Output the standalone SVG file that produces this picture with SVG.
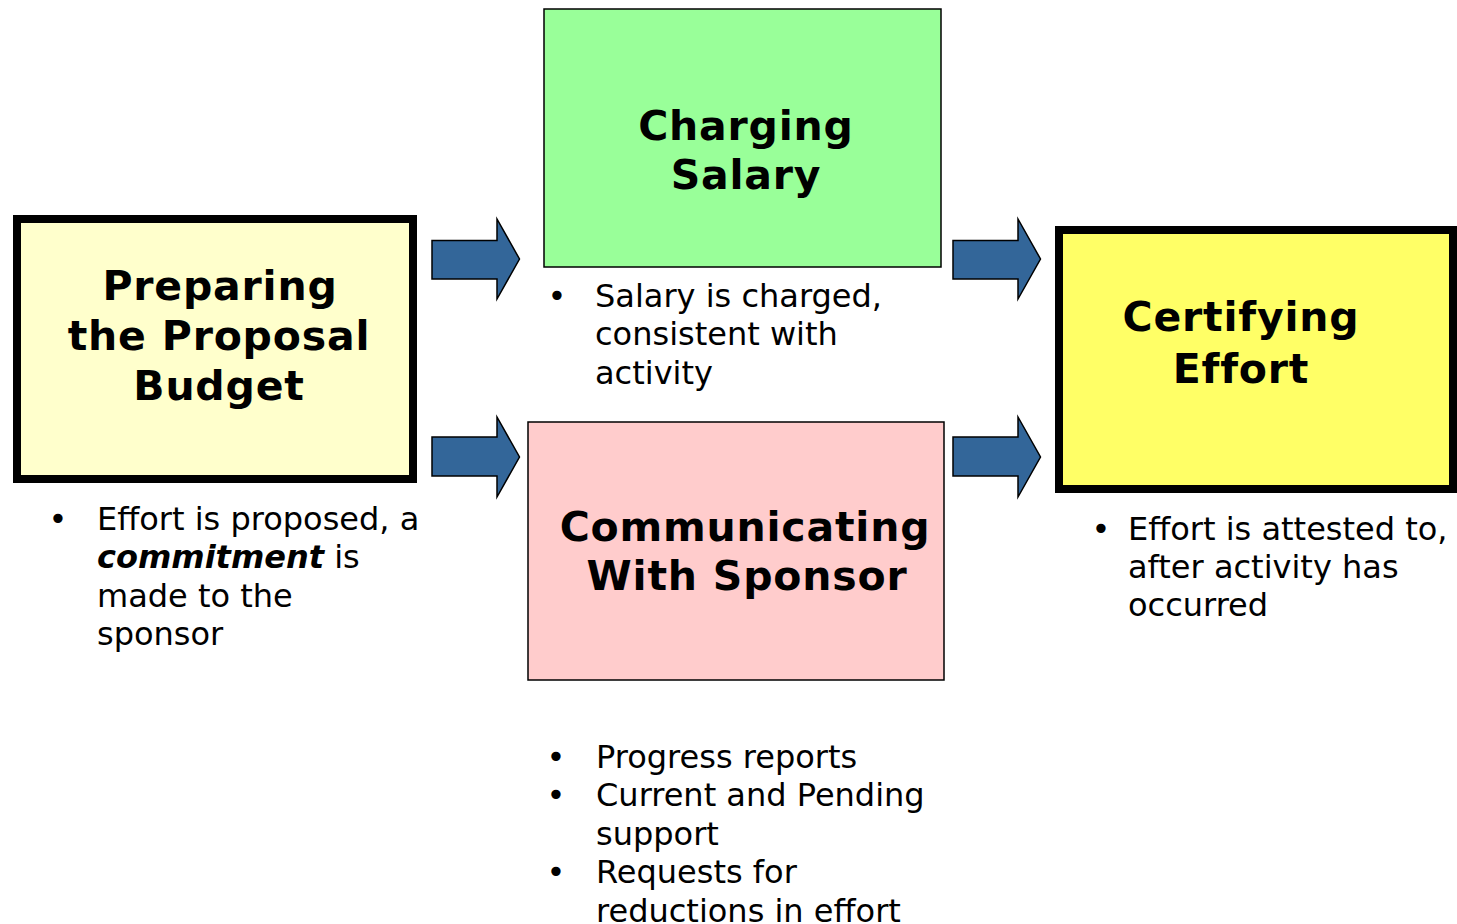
<svg xmlns="http://www.w3.org/2000/svg" width="1457" height="924" viewBox="0 0 1457 924">
<style>
.title{font-family:"DejaVu Sans","Liberation Sans",sans-serif;font-weight:bold;font-size:41px;letter-spacing:0.8px;fill:#000;text-anchor:middle}
.body{font-family:"DejaVu Sans","Liberation Sans",sans-serif;font-size:32px;fill:#000}
.bul{text-anchor:middle}
.arrow{fill:#336699;stroke:#000;stroke-width:1.5;stroke-linejoin:miter}
.thick{stroke:#000;stroke-width:8}
.thin{stroke:#000;stroke-width:1.5}
</style>
<rect x="0" y="0" width="1457" height="924" fill="#fff"/>
<g id="connectors">
<polygon class="arrow" points="432,240.5 497,240.5 497,219 519.5,259 497,299 497,279 432,279"/>
<polygon class="arrow" points="432,437 497,437 497,417 519.5,457 497,497 497,476 432,476"/>
<polygon class="arrow" points="953,240.5 1018,240.5 1018,219 1040.5,259 1018,299 1018,279 953,279"/>
<polygon class="arrow" points="953,437 1018,437 1018,417 1040.5,457 1018,497 1018,476 953,476"/>
</g>
<g id="node-preparing">
<rect class="thick" x="17" y="219" width="396" height="260" fill="#FFFFCC"/>
<text class="title" x="220" y="300">Preparing</text>
<text class="title" x="219" y="350">the Proposal</text>
<text class="title" x="219" y="400">Budget</text>
<g class="body">
<text class="bul" x="58" y="530">•</text>
<text x="97" y="530">Effort is proposed, a</text>
<text x="97" y="568.4"><tspan font-weight="bold" font-style="italic">commitment</tspan> is</text>
<text x="97" y="606.8">made to the</text>
<text x="97" y="645.2">sponsor</text>
</g>
</g>
<g id="node-charging">
<rect class="thin" x="544" y="9" width="397" height="258" fill="#99FF99"/>
<text class="title" x="746" y="140">Charging</text>
<text class="title" x="746" y="189">Salary</text>
<g class="body">
<text class="bul" x="557" y="307">•</text>
<text x="595" y="307">Salary is charged,</text>
<text x="595" y="345.4">consistent with</text>
<text x="595" y="383.8">activity</text>
</g>
</g>
<g id="node-communicating">
<rect class="thin" x="528" y="422" width="416" height="258" fill="#FFCCCC"/>
<text class="title" x="745" y="541">Communicating</text>
<text class="title" x="747" y="590">With Sponsor</text>
<g class="body">
<text class="bul" x="556" y="768">•</text>
<text x="596" y="768">Progress reports</text>
<text class="bul" x="556" y="806.4">•</text>
<text x="596" y="806.4">Current and Pending</text>
<text x="596" y="844.8">support</text>
<text class="bul" x="556" y="883.2">•</text>
<text x="596" y="883.2">Requests for</text>
<text x="596" y="921.6">reductions in effort</text>
</g>
</g>
<g id="node-certifying">
<rect class="thick" x="1059" y="230" width="394" height="259" fill="#FFFF66"/>
<text class="title" x="1241" y="331">Certifying</text>
<text class="title" x="1241" y="383">Effort</text>
<g class="body">
<text class="bul" x="1101" y="539.5">•</text>
<text x="1128" y="539.5">Effort is attested to,</text>
<text x="1128" y="577.9">after activity has</text>
<text x="1128" y="616.3">occurred</text>
</g>
</g>
</svg>
